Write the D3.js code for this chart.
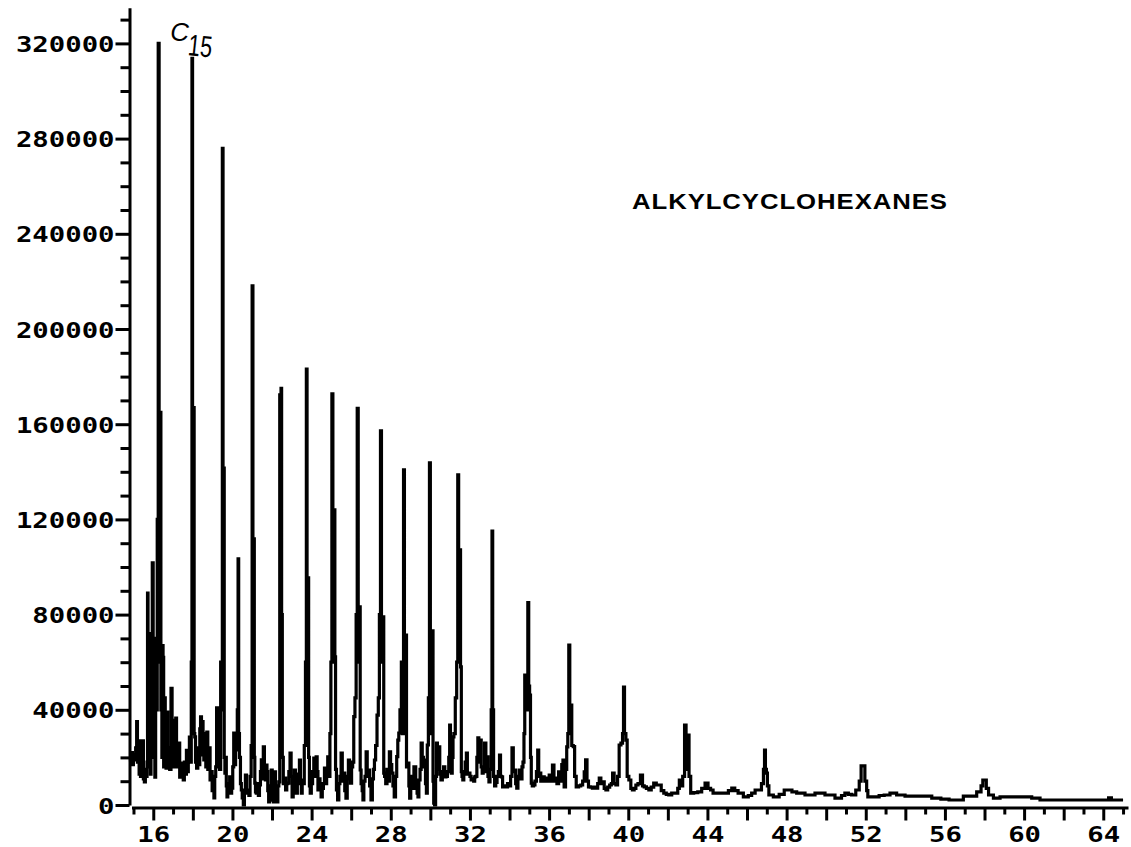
<!DOCTYPE html>
<html>
<head>
<meta charset="utf-8">
<script src="https://cdn.jsdelivr.net/npm/d3@7"></script>
<style>
  html, body { margin: 0; padding: 0; background: #fff; }
  svg { display: block; }
</style>
</head>
<body>
<svg id="chart" width="1131" height="847"></svg>
<script>
// Retention time (min) and detector abundance of the chromatogram trace
const trace = [
  [14.82, 20000], [14.88, 19000], [14.92, 22000], [14.97, 17000], [15.02, 21000],
  [15.08, 19000], [15.14, 24000], [15.18, 35000], [15.22, 18000], [15.27, 23000],
  [15.30, 13000], [15.33, 27000], [15.38, 12000], [15.43, 20000], [15.48, 27000],
  [15.52, 11000], [15.58, 9700], [15.62, 15000], [15.67, 12000], [15.70, 18000],
  [15.72, 89000], [15.75, 30000], [15.78, 72000], [15.81, 16000], [15.84, 72000],
  [15.87, 13000], [15.90, 64000], [15.93, 20000], [15.97, 101700], [16.02, 30000],
  [16.06, 60000], [16.10, 11700], [16.14, 70000], [16.18, 40000], [16.22, 120000],
  [16.28, 320000], [16.31, 60000], [16.34, 165000], [16.37, 165000], [16.40, 40000],
  [16.42, 67000], [16.45, 20000], [16.48, 67000], [16.51, 62000], [16.54, 16000],
  [16.58, 45000], [16.63, 39000], [16.66, 15500], [16.71, 39000], [16.75, 20000],
  [16.80, 24000], [16.86, 15000], [16.93, 49000], [16.97, 20000], [17.01, 35600],
  [17.06, 16000], [17.12, 30000], [17.15, 36500], [17.20, 16000], [17.26, 22000],
  [17.31, 26000], [17.36, 11700], [17.42, 15000], [17.49, 17600], [17.54, 10500],
  [17.60, 18000], [17.66, 13000], [17.69, 23000], [17.74, 14000], [17.80, 20000],
  [17.85, 28500], [17.90, 18000], [17.94, 60000], [17.97, 313700], [18.00, 100000],
  [18.02, 167000], [18.05, 167000], [18.08, 30000], [18.11, 28600], [18.16, 18000],
  [18.22, 15500], [18.28, 24000], [18.33, 17000], [18.37, 32000], [18.41, 37000],
  [18.46, 21000], [18.50, 35000], [18.53, 30000], [18.58, 19000], [18.63, 27000],
  [18.68, 16000], [18.73, 30600], [18.78, 15000], [18.84, 24000], [18.90, 10500],
  [18.95, 14000], [19.00, 6000], [19.05, 10000], [19.08, 3000], [19.13, 12000],
  [19.18, 16000], [19.22, 40800], [19.27, 22000], [19.32, 35000], [19.38, 15000],
  [19.43, 60000], [19.47, 40000], [19.51, 275900], [19.54, 60000], [19.57, 141600],
  [19.60, 20000], [19.64, 13400], [19.67, 20000], [19.71, 8000], [19.74, 3400],
  [19.79, 9000], [19.84, 6000], [19.88, 11800], [19.93, 5000], [19.99, 7100],
  [20.04, 16000], [20.09, 30200], [20.14, 17000], [20.18, 26000], [20.22, 23100],
  [20.27, 40000], [20.30, 103400], [20.33, 30000], [20.38, 20000], [20.43, 9000],
  [20.47, 6300], [20.52, 3000], [20.58, 0], [20.63, 6000], [20.68, 12600],
  [20.74, 5000], [20.80, 6300], [20.86, 4000], [20.92, 12000], [20.97, 25000],
  [21.02, 218100], [21.05, 60000], [21.09, 111800], [21.12, 20000], [21.14, 9200],
  [21.19, 5500], [21.22, 5000], [21.28, 9000], [21.34, 4000], [21.39, 8400],
  [21.44, 14000], [21.48, 19000], [21.53, 11000], [21.59, 24400], [21.64, 15000],
  [21.69, 10500], [21.73, 16800], [21.76, 14000], [21.81, 6000], [21.85, 1300],
  [21.90, 8000], [21.94, 2000], [21.98, 14700], [22.04, 6000], [22.10, 1300],
  [22.15, 13900], [22.20, 5000], [22.27, 1300], [22.32, 8000], [22.37, 9700],
  [22.41, 172300], [22.44, 60000], [22.47, 175100], [22.50, 80000], [22.54, 20000],
  [22.60, 9000], [22.65, 11300], [22.72, 6300], [22.77, 9000], [22.82, 9200],
  [22.88, 14000], [22.94, 21800], [22.99, 12000], [23.04, 3400], [23.10, 10000],
  [23.16, 14700], [23.21, 9200], [23.25, 5000], [23.31, 9000], [23.36, 13000],
  [23.41, 18900], [23.46, 10500], [23.50, 5000], [23.55, 10500], [23.60, 9000],
  [23.66, 25000], [23.72, 60000], [23.75, 183100], [23.79, 50000], [23.83, 95400],
  [23.87, 20000], [23.91, 8000], [23.95, 5000], [24.02, 9000], [24.08, 14000],
  [24.14, 19700], [24.20, 12000], [24.26, 20200], [24.30, 14000], [24.34, 6300],
  [24.40, 11000], [24.45, 9000], [24.51, 3400], [24.57, 7000], [24.62, 9000],
  [24.68, 15500], [24.73, 9000], [24.79, 14000], [24.84, 20200], [24.90, 12000],
  [24.95, 30000], [25.00, 60000], [25.05, 172700], [25.10, 60000], [25.16, 124000],
  [25.19, 62300], [25.23, 15000], [25.28, 6300], [25.35, 2100], [25.40, 9000],
  [25.46, 12000], [25.52, 21800], [25.58, 10000], [25.65, 13400], [25.70, 6000],
  [25.77, 2900], [25.83, 12000], [25.89, 18900], [25.94, 11000], [25.99, 9200],
  [26.05, 16000], [26.10, 18000], [26.16, 37100], [26.22, 45000], [26.28, 80000],
  [26.33, 166700], [26.38, 60000], [26.44, 83300], [26.47, 14700], [26.53, 9000],
  [26.58, 6000], [26.61, 2100], [26.67, 10000], [26.73, 12000], [26.78, 22300],
  [26.84, 12000], [26.90, 14700], [26.96, 8000], [27.04, 2100], [27.10, 11000],
  [27.15, 15000], [27.20, 18900], [27.27, 25000], [27.34, 37800], [27.40, 45000],
  [27.45, 80000], [27.51, 157200], [27.55, 60000], [27.62, 79100], [27.67, 13400],
  [27.71, 12000], [27.78, 9000], [27.84, 15000], [27.90, 10000], [27.96, 22300],
  [28.02, 17000], [28.08, 13400], [28.14, 8000], [28.21, 3400], [28.27, 12000],
  [28.33, 20300], [28.38, 27300], [28.43, 30200], [28.50, 40000], [28.57, 60000],
  [28.62, 30000], [28.67, 140800], [28.71, 50000], [28.77, 71400], [28.82, 16000],
  [28.89, 17600], [28.94, 8000], [28.97, 2900], [29.05, 12000], [29.12, 7000],
  [29.22, 16000], [29.30, 8000], [29.36, 5000], [29.39, 3400], [29.45, 10500],
  [29.51, 15000], [29.56, 26000], [29.62, 20000], [29.68, 16000], [29.73, 18900],
  [29.78, 9000], [29.82, 5000], [29.87, 25200], [29.93, 45000], [29.98, 143800],
  [30.02, 30000], [30.06, 40000], [30.12, 73200], [30.15, 10000], [30.19, 800],
  [30.24, 0], [30.29, 12000], [30.33, 26000], [30.38, 15000], [30.45, 24400],
  [30.50, 13000], [30.57, 10500], [30.64, 14000], [30.70, 16000], [30.76, 11800],
  [30.82, 12000], [30.90, 14000], [30.96, 20000], [30.99, 33600], [31.04, 14000],
  [31.08, 13400], [31.13, 20000], [31.16, 28600], [31.22, 30000], [31.30, 45000],
  [31.36, 60000], [31.41, 138700], [31.45, 70000], [31.50, 107200], [31.55, 58000],
  [31.58, 14000], [31.62, 12000], [31.66, 10500], [31.72, 13000], [31.80, 18000],
  [31.84, 21800], [31.90, 13000], [31.97, 13400], [32.03, 12000], [32.09, 10500],
  [32.16, 11000], [32.22, 10000], [32.26, 11800], [32.32, 12000], [32.38, 20000],
  [32.42, 28200], [32.48, 18000], [32.54, 27300], [32.60, 16000], [32.64, 13400],
  [32.70, 14000], [32.78, 26000], [32.83, 14000], [32.88, 20200], [32.94, 12000],
  [32.98, 9700], [33.05, 15000], [33.10, 40000], [33.13, 115100], [33.17, 40000],
  [33.22, 12000], [33.27, 8000], [33.34, 9500], [33.40, 12000], [33.47, 14000],
  [33.52, 21000], [33.57, 12000], [33.61, 11800], [33.69, 7600], [33.78, 8000],
  [33.86, 7600], [33.94, 9000], [34.02, 8000], [34.09, 12000], [34.16, 24000],
  [34.22, 14000], [34.28, 14700], [34.34, 9000], [34.39, 7100], [34.46, 12000],
  [34.53, 14700], [34.60, 11000], [34.66, 16000], [34.70, 18000], [34.76, 30000],
  [34.78, 54600], [34.85, 50000], [34.90, 40000], [34.95, 85000], [34.99, 50000],
  [35.04, 46200], [35.08, 20000], [35.12, 9200], [35.18, 8000], [35.25, 8400],
  [35.32, 10000], [35.40, 14000], [35.45, 23100], [35.50, 12000], [35.54, 13400],
  [35.62, 10000], [35.71, 11800], [35.80, 10000], [35.88, 11300], [35.96, 10000],
  [36.05, 12600], [36.13, 10000], [36.21, 16800], [36.28, 10000], [36.35, 11300],
  [36.44, 9000], [36.52, 13900], [36.60, 10000], [36.68, 17000], [36.72, 18900],
  [36.80, 7600], [36.86, 15000], [36.92, 24400], [36.97, 30000], [37.02, 67200],
  [37.07, 30000], [37.12, 42000], [37.17, 25000], [37.27, 24500], [37.31, 12000],
  [37.43, 7600], [37.55, 8000], [37.65, 8400], [37.74, 10000], [37.81, 13900],
  [37.88, 19000], [37.95, 10000], [38.03, 7600], [38.14, 7500], [38.23, 7100],
  [38.33, 7500], [38.41, 7100], [38.50, 9000], [38.57, 11300], [38.66, 9000],
  [38.74, 9700], [38.83, 7000], [38.91, 6300], [39.01, 7500], [39.11, 8400],
  [39.18, 9000], [39.24, 13400], [39.33, 9000], [39.42, 8400], [39.50, 12000],
  [39.58, 25200], [39.68, 26000], [39.74, 30000], [39.78, 49500], [39.84, 30000],
  [39.92, 27300], [39.97, 12000], [40.09, 10500], [40.17, 7000], [40.25, 6300],
  [40.34, 7000], [40.43, 8400], [40.55, 9000], [40.68, 12600], [40.76, 8000],
  [40.85, 7600], [40.98, 7000], [41.10, 6300], [41.22, 7500], [41.35, 9200],
  [41.48, 8400], [41.60, 8400], [41.73, 6000], [41.86, 5000], [41.98, 4500],
  [42.11, 4200], [42.28, 5000], [42.45, 5000], [42.55, 7000], [42.61, 10500],
  [42.70, 8000], [42.80, 12000], [42.89, 33600], [42.95, 15000], [43.04, 29400],
  [43.10, 12000], [43.21, 5000], [43.40, 5200], [43.62, 5500], [43.80, 7000],
  [43.96, 9200], [44.10, 7000], [44.22, 6300], [44.35, 5000], [44.47, 5000],
  [44.70, 5000], [44.97, 5000], [45.15, 6000], [45.31, 7100], [45.45, 6000],
  [45.65, 5000], [45.98, 3400], [46.15, 4000], [46.32, 5000], [46.50, 6300],
  [46.66, 6300], [46.80, 9000], [46.86, 15000], [46.91, 23100], [46.95, 15000],
  [47.01, 13400], [47.05, 8000], [47.16, 4200], [47.50, 3400], [47.75, 4500],
  [48.01, 6300], [48.20, 6300], [48.34, 5500], [48.68, 5000], [49.18, 4200],
  [49.69, 5000], [50.19, 4200], [50.70, 2900], [50.85, 4000], [51.04, 5000],
  [51.20, 4500], [51.37, 4200], [51.62, 6300], [51.72, 10000], [51.81, 16400],
  [51.90, 16400], [52.01, 10000], [52.08, 6000], [52.13, 3400], [52.55, 3400],
  [52.80, 4000], [53.06, 4200], [53.39, 5000], [53.73, 4200], [54.24, 3700],
  [55.08, 3700], [55.59, 2900], [56.00, 2500], [56.42, 2100], [56.76, 2100],
  [57.10, 3700], [57.44, 3700], [57.77, 5500], [57.88, 8000], [57.95, 10500],
  [58.05, 10500], [58.13, 7000], [58.28, 4200], [58.62, 2900], [58.95, 3400],
  [60.13, 3400], [60.64, 2900], [60.97, 2100], [63.48, 2100], [64.20, 2100],
  [64.34, 3000], [64.48, 2100], [65.00, 2100]
];

// Axis ticks and labels
const yMinorTicks = d3.range(0, 330001, 10000);
const yLabelTicks = [0, 40000, 80000, 120000, 160000, 200000, 240000, 280000, 320000];
const xMinorTicks = d3.range(15, 66, 1);
const xLabelTicks = [16, 20, 24, 28, 32, 36, 40, 44, 48, 52, 56, 60, 64];

// Annotation texts
const seriesTitle = "ALKYLCYCLOHEXANES";
const peakNote = { letter: "C", index: "15", time: 17.97 };

const svg = d3.select("#chart");
const ink = "#000";
const monoFont = "'DejaVu Sans Mono', 'Liberation Mono', monospace";
const stretch = 1.3;

const x = d3.scaleLinear().domain([14.9, 65.25]).range([131.5, 1128]);
const y = d3.scaleLinear().domain([0, 335000]).range([805, 7.7]);

// Vertical axis
const yAxis = d3.axisLeft(y)
  .tickValues(yMinorTicks)
  .tickSize(9)
  .tickSizeOuter(0)
  .tickFormat(d => yLabelTicks.includes(d) ? String(d) : "");

const gy = svg.append("g").attr("transform", "translate(129.5,0)").call(yAxis);
gy.select(".domain").attr("stroke", ink).attr("stroke-width", 3);
gy.selectAll(".tick line")
  .attr("stroke", ink).attr("stroke-width", 3)
  .attr("x2", d => yLabelTicks.includes(d) ? -14 : -9);
gy.selectAll(".tick text")
  .attr("fill", ink)
  .attr("font-family", monoFont)
  .attr("font-weight", "bold")
  .attr("font-size", 21)
  .attr("text-anchor", "end")
  .attr("dy", null)
  .attr("y", 8)
  .attr("x", -15 / stretch)
  .attr("transform", `scale(${stretch},1)`);

// Horizontal axis
const xAxis = d3.axisBottom(x)
  .tickValues(xMinorTicks)
  .tickSize(7)
  .tickSizeOuter(0)
  .tickFormat(d => xLabelTicks.includes(d) ? String(d) : "");

const gx = svg.append("g").attr("transform", "translate(0,807.5)").call(xAxis);
gx.select(".domain").attr("stroke", ink).attr("stroke-width", 3);
gx.selectAll(".tick line")
  .attr("stroke", ink).attr("stroke-width", 3)
  .attr("y2", d => d % 2 === 0 ? 13 : 7);
gx.selectAll(".tick text")
  .attr("fill", ink)
  .attr("font-family", monoFont)
  .attr("font-weight", "bold")
  .attr("font-size", 21)
  .attr("text-anchor", "middle")
  .attr("dy", null)
  .attr("y", 35)
  .attr("transform", `scale(${stretch},1)`);

// Chromatogram trace
const line = d3.line()
  .x(d => x(d[0]))
  .y(d => y(d[1]))
  .curve(d3.curveStep);

svg.append("path")
  .datum(trace)
  .attr("d", line)
  .attr("fill", "none")
  .attr("stroke", ink)
  .attr("stroke-width", 3.2)
  .attr("stroke-linejoin", "miter");

// Compound class label
const titleScale = 1.17;
svg.append("text")
  .attr("transform", `translate(632,208.5) scale(${titleScale},1)`)
  .attr("font-family", "'Liberation Sans', Arial, sans-serif")
  .attr("font-weight", "bold")
  .attr("font-size", 22)
  .attr("textLength", 315 / titleScale)
  .attr("lengthAdjust", "spacing")
  .attr("fill", ink)
  .text(seriesTitle);

// Hand-written carbon-number note above the C15 peak
const noteX = x(peakNote.time);
svg.append("text")
  .attr("x", noteX - 22)
  .attr("y", 41)
  .attr("font-family", "'Liberation Sans', Arial, sans-serif")
  .attr("font-style", "italic")
  .attr("font-size", 26)
  .attr("fill", ink)
  .text(peakNote.letter);
svg.append("g")
  .attr("transform", `translate(${noteX - 5},55) rotate(6) scale(0.72,1)`)
  .append("text")
  .attr("font-family", "'Liberation Sans', Arial, sans-serif")
  .attr("font-size", 30)
  .attr("fill", ink)
  .text(peakNote.index);
</script>
</body>
</html>
